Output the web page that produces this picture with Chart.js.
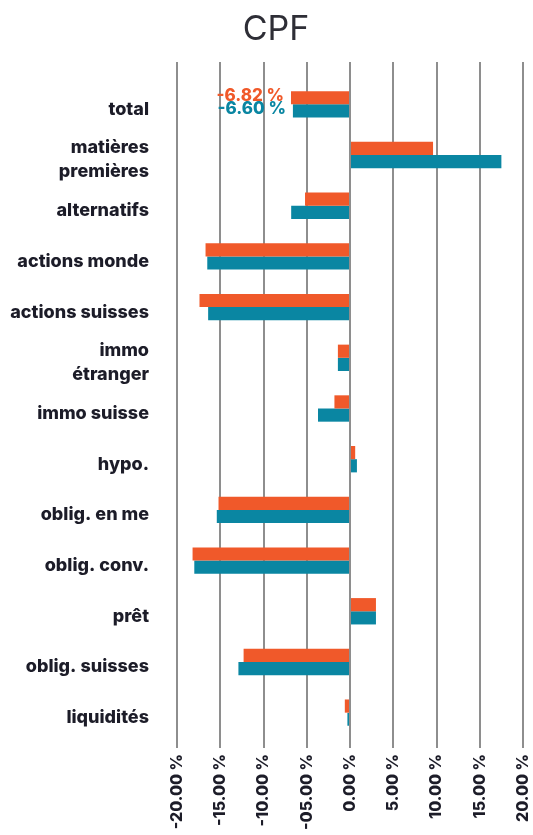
<!DOCTYPE html>
<html lang="fr">
<head>
<meta charset="utf-8">
<title>CPF</title>
<script src="https://cdn.jsdelivr.net/npm/chart.js@4"></script>
<style>
  html, body { margin: 0; padding: 0; background: #fff; }
  #wrap { position: relative; width: 533px; height: 835px; }
  #chart-title {
    position: absolute; left: 0; top: 8px; width: 552px;
    text-align: center; font: 400 34px/40px Inter, 'Noto Sans', sans-serif;
    color: #2e2e36;
  }
</style>
</head>
<body>
<div id="wrap">
  <canvas id="cpf-chart"></canvas>
  <div id="chart-title">CPF</div>
</div>
<script>
// Categories (top to bottom)
const categories = [
  'total',
  ['matières', 'premières'],
  'alternatifs',
  'actions monde',
  'actions suisses',
  ['immo', 'étranger'],
  'immo suisse',
  'hypo.',
  'oblig. en me',
  'oblig. conv.',
  'prêt',
  'oblig. suisses',
  'liquidités',
];

// Performance values, in %
const seriesOrange = [-6.82, 9.6, -5.2, -16.7, -17.4, -1.4, -1.8, 0.6, -15.2, -18.2, 3.0, -12.3, -0.6];
const seriesTeal   = [-6.60, 17.5, -6.8, -16.5, -16.4, -1.4, -3.7, 0.8, -15.4, -18.0, 3.0, -12.9, -0.3];

// X axis tick labels, as printed
const tickLabels = ['-20.00 %', '-15.00 %', '-10.00 %', '-05.00 %', '0.00 %', '5.00 %', '10.00 %', '15.00 %', '20.00 %'];

const ORANGE = '#f0592a';
const TEAL = '#0a86a2';
const INK = '#1c1c28';
const GRID = '#8e8e8e';
const FONT = "Inter, 'Noto Sans', sans-serif";

// Value labels on the "total" bars, placed left of each bar
const totalLabelsPlugin = {
  id: 'totalLabels',
  afterDatasetsDraw(chart) {
    const ctx = chart.ctx;
    ctx.save();
    ctx.font = `800 17px ${FONT}`;
    ctx.textAlign = 'right';
    ctx.textBaseline = 'middle';
    chart.data.datasets.forEach((ds, i) => {
      const bar = chart.getDatasetMeta(i).data[0];
      if (!bar) return;
      ctx.fillStyle = ds.backgroundColor;
      ctx.fillText(ds.data[0].toFixed(2) + ' %', bar.x - 7, bar.y - 2);
    });
    ctx.restore();
  },
};

new Chart(document.getElementById('cpf-chart'), {
  type: 'bar',
  data: {
    labels: categories,
    datasets: [
      { label: 'série 1', data: seriesOrange, backgroundColor: ORANGE },
      { label: 'série 2', data: seriesTeal, backgroundColor: TEAL },
    ],
  },
  options: {
    indexAxis: 'y',
    responsive: true,
    maintainAspectRatio: false,
    animation: false,
    layout: { padding: { left: 0, right: 10, top: 62, bottom: 0 } },
    datasets: {
      bar: { categoryPercentage: 0.52, barPercentage: 1.0, borderWidth: 0 },
    },
    plugins: {
      legend: { display: false },
      tooltip: { enabled: false },
      title: { display: false },
    },
    scales: {
      x: {
        min: -20,
        max: 20,
        ticks: {
          stepSize: 5,
          autoSkip: false,
          minRotation: 90,
          maxRotation: 90,
          color: INK,
          padding: 6,
          font: { family: FONT, size: 16, weight: 800 },
          callback: (value, index) => tickLabels[index],
        },
        grid: { color: GRID, lineWidth: 2, drawTicks: true, tickLength: 10 },
        border: { display: false },
        afterFit: (scale) => {
          scale.height = 97;
          scale.paddingLeft = 0;
          scale.paddingRight = 0;
        },
      },
      // top copy of the x axis: only stretches the grid lines above the bars
      x2: {
        position: 'top',
        min: -20,
        max: 20,
        ticks: { display: false, stepSize: 5 },
        grid: { color: GRID, lineWidth: 2, drawTicks: true, tickLength: 17 },
        border: { display: false },
        afterFit: (scale) => {
          scale.height = 17;
          scale.paddingLeft = 0;
          scale.paddingRight = 0;
        },
      },
      y: {
        grid: { display: false, drawTicks: false },
        border: { display: false },
        ticks: {
          autoSkip: false,
          color: INK,
          padding: 28,
          labelOffset: 5,
          font: { family: FONT, size: 18, weight: 800, lineHeight: 1.33 },
        },
        afterFit: (scale) => { scale.width = 177; },
      },
    },
  },
  plugins: [totalLabelsPlugin],
});
</script>
</body>
</html>
